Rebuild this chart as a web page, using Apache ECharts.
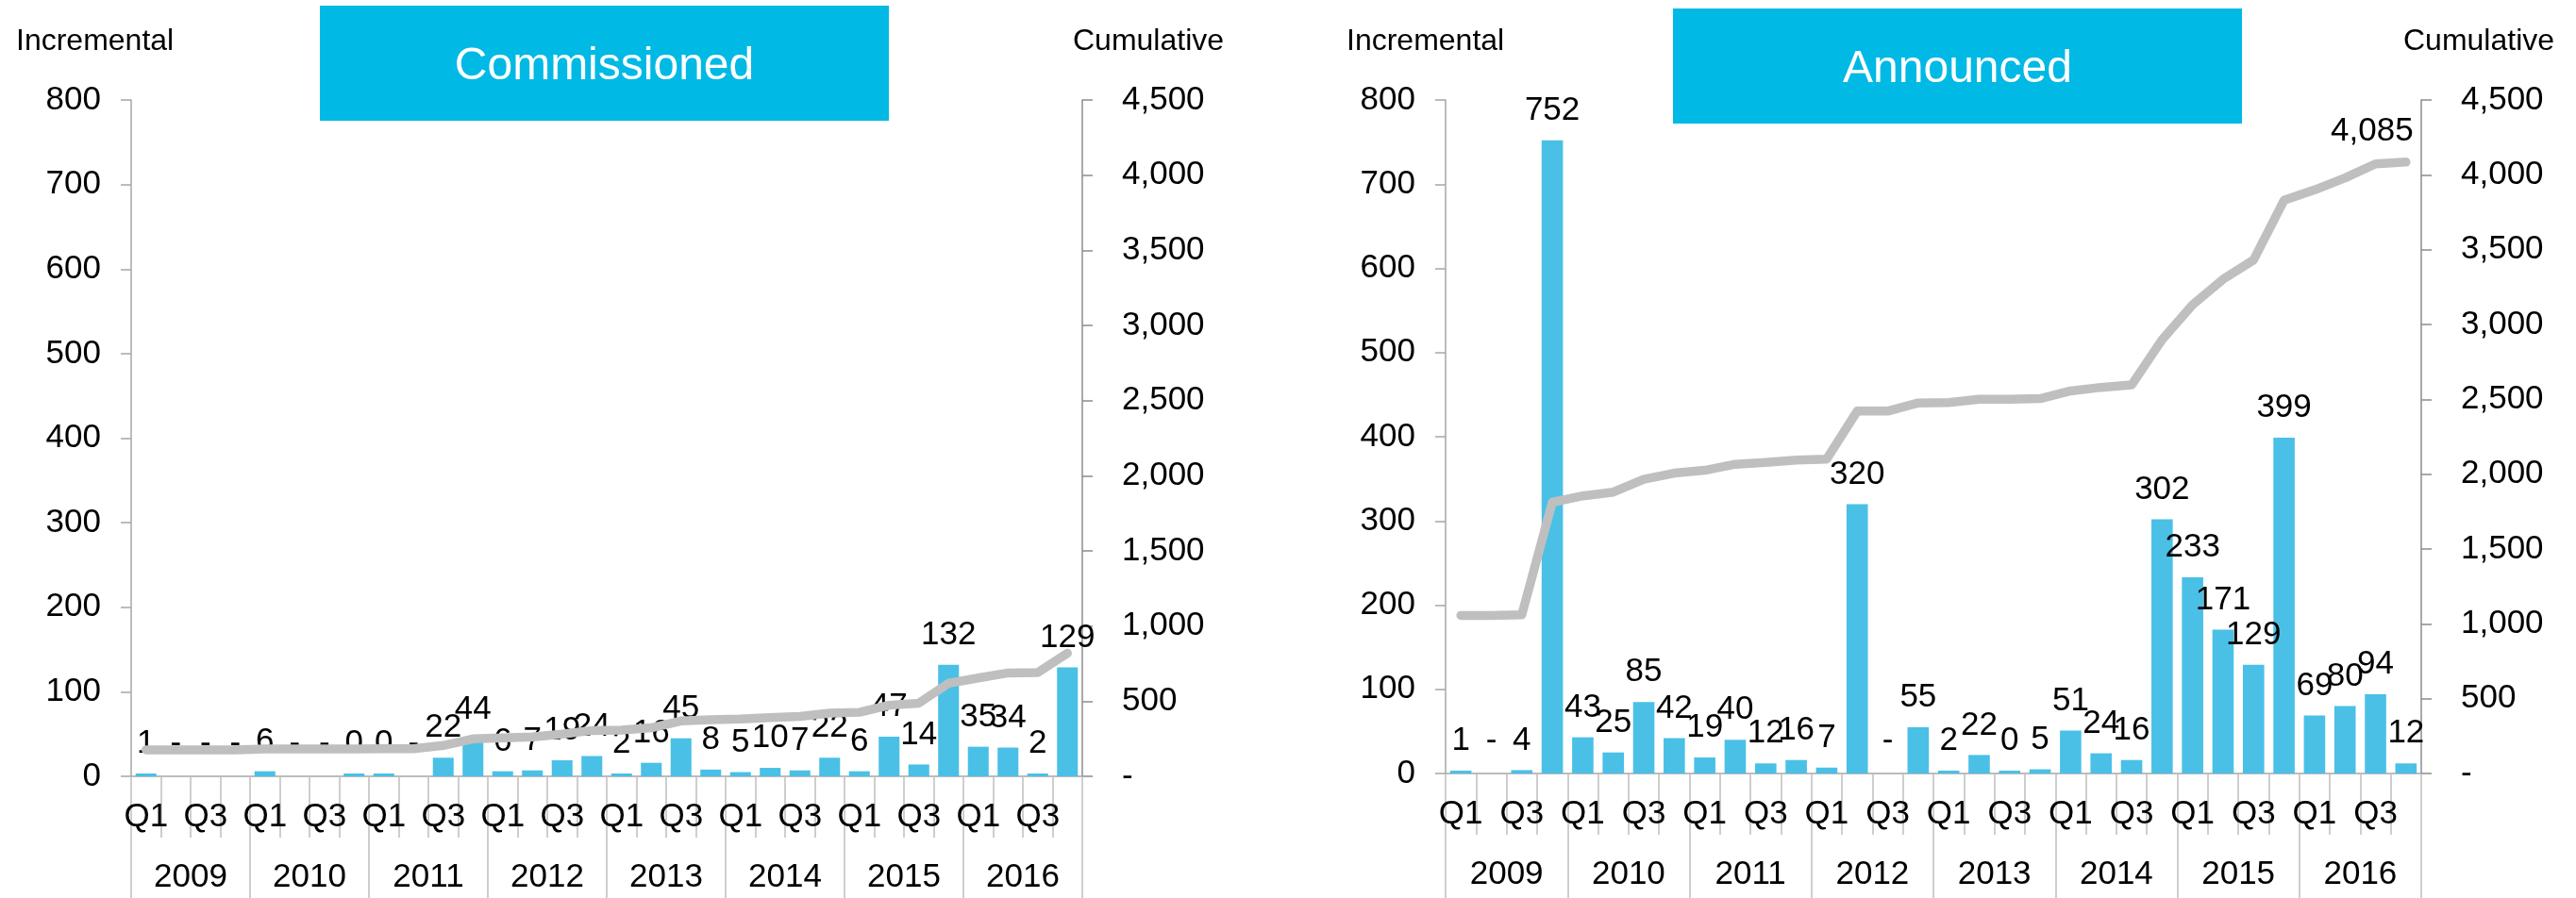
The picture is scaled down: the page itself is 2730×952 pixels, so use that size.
<!DOCTYPE html>
<html>
<head>
<meta charset="utf-8">
<script src="https://cdn.jsdelivr.net/npm/echarts@6/dist/echarts.min.js"></script>
<style>
  html, body { margin: 0; padding: 0; background: #ffffff; }
  #chart { width: 2730px; height: 952px; }
</style>
</head>
<body>
<div id="chart"></div>
<script>
// Quarterly incremental and cumulative volumes, 2009-2016
const years = ['2009', '2010', '2011', '2012', '2013', '2014', '2015', '2016'];
const quarters = ['Q1', 'Q2', 'Q3', 'Q4'];

// Commissioned: incremental per quarter (0 shows as "-")
const commissioned = [
  1, 0, 0, 0,
  6, 0, 0, 0.3,
  0.3, 0, 22, 44,
  6, 7, 19, 24,
  2, 16, 45, 8,
  5, 10, 7, 22,
  6, 47, 14, 132,
  35, 34, 2, 129
];
const commissionedCumulative = [
  176, 176, 176, 176,
  182, 182, 182, 182,
  183, 183, 205, 249,
  255, 262, 281, 305,
  307, 323, 368, 376,
  381, 391, 398, 420,
  426, 473, 487, 619,
  654, 688, 690, 819
];

// Announced: incremental per quarter (0 shows as "-")
const announced = [
  1, 0, 4, 752,
  43, 25, 85, 42,
  19, 40, 12, 16,
  7, 320, 0, 55,
  2, 22, 0.3, 5,
  51, 24, 16, 302,
  233, 171, 129, 399,
  69, 80, 94, 12
];
const announcedCumulative = [
  1056, 1056, 1060, 1812,
  1855, 1880, 1965, 2007,
  2026, 2066, 2078, 2094,
  2101, 2421, 2421, 2476,
  2478, 2500, 2500, 2505,
  2556, 2580, 2596, 2898,
  3131, 3302, 3431, 3830,
  3899, 3979, 4073, 4085
];

const periods = years.flatMap(y => quarters.map(q => y + ' ' + q));

const FONT = '"Liberation Sans", Arial, Helvetica, sans-serif';
const BAR_COLOR = '#4AC0E6';
const LINE_COLOR = '#BFBFBF';
const BOX_COLOR = '#00B9E4';

const fmtThousands = v => Math.round(v).toLocaleString('en-US');
const barLabel = p => (p.value === 0 ? '-' : fmtThousands(p.value));

function barData(values) {
  // zero quarters keep an invisible stub so their "-" label still sits on the baseline
  return values.map(v => (v === 0 ? { value: 0, itemStyle: { color: 'rgba(0,0,0,0)' } } : v));
}

function quarterAxis(gridIndex) {
  return {
    type: 'category', gridIndex, data: periods, position: 'bottom',
    axisLine: { show: true, lineStyle: { color: '#A6A6A6', width: 1.5 } },
    axisTick: { show: true, interval: 0, length: 65, lineStyle: { color: '#BFBFBF', width: 1.5 } },
    axisLabel: {
      interval: 1, margin: 26, fontSize: 35, fontFamily: FONT, color: '#000',
      formatter: v => v.split(' ')[1]
    },
    splitLine: { show: false }
  };
}

function yearAxis(gridIndex, tickLength) {
  return {
    type: 'category', gridIndex, data: years, position: 'bottom',
    axisLine: { show: false },
    axisTick: { show: true, interval: 0, length: tickLength, lineStyle: { color: '#BFBFBF', width: 1.5 } },
    axisLabel: { interval: 0, margin: 90, fontSize: 35, fontFamily: FONT, color: '#000' },
    splitLine: { show: false }
  };
}

function incrementalAxis(gridIndex) {
  return {
    type: 'value', gridIndex, position: 'left', min: 0, max: 800, interval: 100,
    axisLine: { show: true, lineStyle: { color: '#A6A6A6', width: 1.5 } },
    axisTick: { show: true, length: 11, lineStyle: { color: '#A6A6A6', width: 1.5 } },
    axisLabel: { margin: 32, fontSize: 35, fontFamily: FONT, color: '#000' },
    splitLine: { show: false }
  };
}

function cumulativeAxis(gridIndex) {
  return {
    type: 'value', gridIndex, position: 'right', min: 0, max: 4500, interval: 500,
    axisLine: { show: true, lineStyle: { color: '#8C8C8C', width: 1.5 } },
    axisTick: { show: true, length: 11, lineStyle: { color: '#8C8C8C', width: 1.5 } },
    axisLabel: {
      margin: 42, fontSize: 35, fontFamily: FONT, color: '#000',
      formatter: v => (v === 0 ? '-' : fmtThousands(v))
    },
    splitLine: { show: false }
  };
}

function barSeries(xAxisIndex, yAxisIndex, values) {
  return {
    type: 'bar', xAxisIndex, yAxisIndex, data: barData(values),
    barWidth: '70%', barMinHeight: 3,
    itemStyle: { color: BAR_COLOR },
    label: {
      show: true, position: 'top', distance: 14,
      fontSize: 35, fontFamily: FONT, color: '#000', formatter: barLabel
    },
    z: 2
  };
}

function lineSeries(xAxisIndex, yAxisIndex, data) {
  // same z as the bars: drawn after them, but below the value labels
  return {
    type: 'line', xAxisIndex, yAxisIndex, data,
    symbol: 'circle', symbolSize: 1, showSymbol: true, showAllSymbol: true,
    itemStyle: { color: LINE_COLOR },
    lineStyle: { color: LINE_COLOR, width: 9.5, cap: 'round', join: 'round' },
    label: { show: false },
    z: 2
  };
}

// last announced point carries its running total
const announcedLineData = announcedCumulative.map((v, i) =>
  i === announcedCumulative.length - 1
    ? {
        value: v,
        label: {
          show: true, position: 'top', distance: 15, offset: [-36, 0],
          fontSize: 35, fontFamily: FONT, color: '#000',
          formatter: p => fmtThousands(p.value)
        }
      }
    : v
);

function headerBox(x, y, w, h, text) {
  return [
    { type: 'rect', silent: true, shape: { x, y, width: w, height: h }, style: { fill: BOX_COLOR } },
    {
      type: 'text', silent: true, x: x + w / 2, y: y + h / 2 + 4,
      style: { text, fill: '#ffffff', fontSize: 48, fontFamily: FONT, align: 'center', verticalAlign: 'middle' }
    }
  ];
}

function axisCaption(x, y, text) {
  return {
    type: 'text', silent: true, x, y,
    style: { text, fill: '#000', fontSize: 32, fontFamily: FONT, align: 'left', verticalAlign: 'middle' }
  };
}

const chart = echarts.init(document.getElementById('chart'), null, { renderer: 'canvas' });

chart.setOption({
  animation: false,
  backgroundColor: '#ffffff',
  textStyle: { fontFamily: FONT },
  grid: [
    { left: 139, top: 106, width: 1008, height: 717 },
    { left: 1532, top: 106, width: 1034, height: 714 }
  ],
  xAxis: [
    quarterAxis(0),
    yearAxis(0, 130),
    quarterAxis(1),
    yearAxis(1, 134)
  ],
  yAxis: [
    incrementalAxis(0),
    cumulativeAxis(0),
    incrementalAxis(1),
    cumulativeAxis(1)
  ],
  series: [
    barSeries(0, 0, commissioned),
    lineSeries(0, 1, commissionedCumulative),
    barSeries(2, 2, announced),
    lineSeries(2, 3, announcedLineData)
  ],
  graphic: [
    ...headerBox(339, 6, 603, 122, 'Commissioned'),
    ...headerBox(1773, 9, 603, 122, 'Announced'),
    axisCaption(17, 44, 'Incremental'),
    axisCaption(1137, 44, 'Cumulative'),
    axisCaption(1427, 44, 'Incremental'),
    axisCaption(2547, 44, 'Cumulative')
  ]
});
</script>
</body>
</html>
